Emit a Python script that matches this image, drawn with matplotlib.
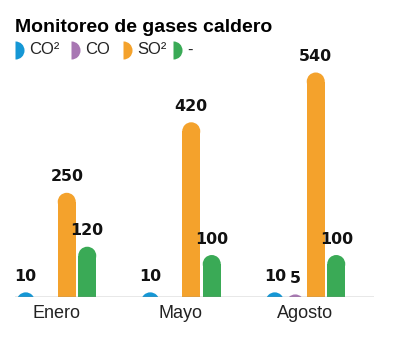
import numpy as np
import matplotlib.pyplot as plt
from matplotlib.patches import Ellipse
from matplotlib.lines import Line2D

# gas readings per month
months = ["Enero", "Mayo", "Agosto"]
series_names = ["CO²", "CO", "SO²", "-"]
co2 = [10, 10, 10]
co = [0, 0, 5]
so2 = [250, 420, 540]
other = [120, 100, 100]
colors = ["#1597d5", "#a877b3", "#f4a22c", "#3aaa56"]

W, H, DPI = 406, 342, 100
fig = plt.figure(figsize=(W / DPI, H / DPI), dpi=DPI)

# axes placed in pixels: baseline at y=296, plot spans x=15..374
left, right = 15, 374
base, top = 296.5, 296.5 - 600 * 224 / 540
ax = fig.add_axes([left / W, (H - base) / H, (right - left) / W, (base - top) / H])

group_px = 124.5
slot = 20.5 / group_px
width = 18 / group_px
ax.set_xlim(-41.5 / group_px, 2 + 68.5 / group_px)
ax.set_ylim(0, 600)

x = np.arange(len(months))
data = [co2, co, so2, other]

# bar cap radius in data units (9 px)
px_y = 600 / (base - top)
ry = 9 * px_y

for i, (vals, col) in enumerate(zip(data, colors)):
    pos = x + (i - 1.5) * slot
    bars = ax.bar(pos, vals, width=width, color=col, linewidth=0)
    for b, v in zip(bars, vals):
        b.set_height(max(v - ry, 0))
        if v > 0:
            cx = b.get_x() + b.get_width() / 2
            ax.add_patch(Ellipse((cx, v - ry), width, 2 * ry, color=col, lw=0))
            ax.annotate(str(v), (cx, v), xytext=(0, 6), textcoords="offset points",
                        ha="center", va="bottom", fontsize=11.4, fontweight="bold",
                        family="DejaVu Sans", color="#111111")

ax.axhline(0, color="#8a8a8a", lw=1, zorder=5)

for s in ax.spines.values():
    s.set_visible(False)
ax.set_yticks([])
ax.set_xticks(x)
ax.set_xticklabels(months, fontsize=13, family="Liberation Sans", color="#222222")
ax.tick_params(axis="x", length=0, pad=6)

fig.text(15 / W, (H - 31.7) / H, "Monitoreo de gases caldero", fontsize=14,
         fontweight="bold", family="Liberation Sans", va="baseline", ha="left")

# legend: half-circle keys followed by the gas name
key_x = [15, 71, 123, 173]
legend_y = (H - 50) / H
for kx, name, col in zip(key_x, series_names, colors):
    fig.add_artist(Line2D([kx / W], [legend_y], transform=fig.transFigure, marker="o",
                          fillstyle="right", markersize=13, linestyle="none",
                          markerfacecolor=col, markerfacecoloralt="none",
                          markeredgewidth=0))
    fig.text((kx + 14) / W, legend_y, name, fontsize=12, family="Liberation Sans",
             va="center", ha="left", color="#222222")

fig.savefig("out.png", dpi=DPI)
